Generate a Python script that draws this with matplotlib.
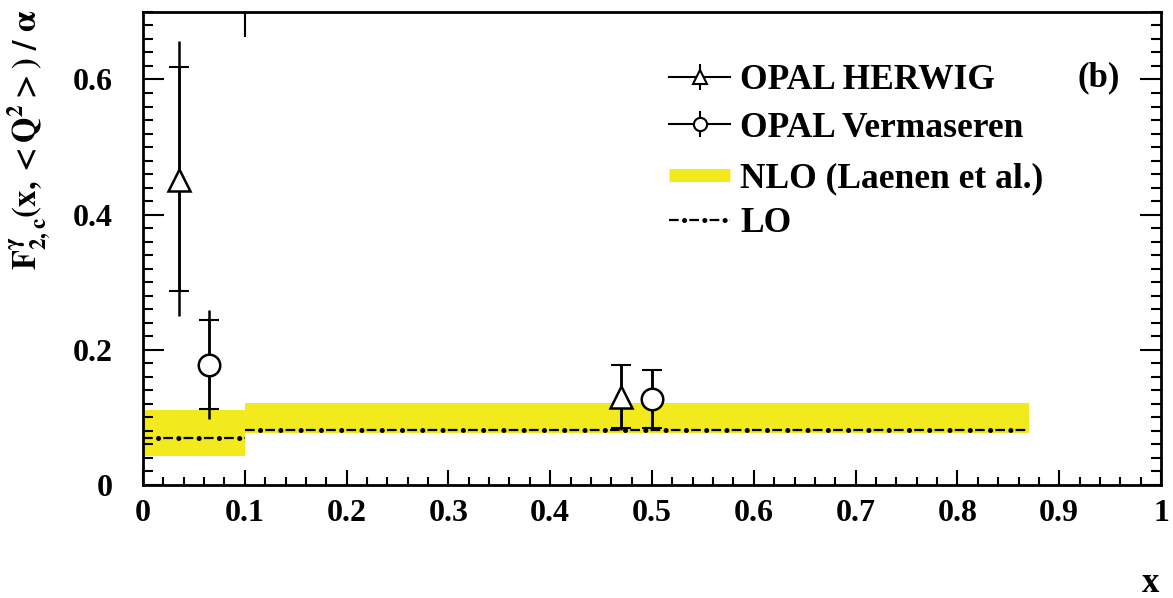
import numpy as np
import matplotlib
matplotlib.use('Agg')
import matplotlib.pyplot as plt
from matplotlib.lines import Line2D
from matplotlib.ticker import MultipleLocator, FormatStrFormatter

plt.rcParams['font.family'] = ['Liberation Serif', 'DejaVu Serif']
plt.rcParams['font.weight'] = 'bold'
plt.rcParams['mathtext.fontset'] = 'stix'
plt.rcParams['lines.scale_dashes'] = False

# OPAL measurements: central value, inner (stat) and outer (total) error bounds
herwig_x = [0.035, 0.47]
herwig_y = [0.451, 0.130]
herwig_stat_lo = [0.287, 0.084]
herwig_stat_hi = [0.618, 0.177]
herwig_tot_lo = [0.250, 0.081]
herwig_tot_hi = [0.657, 0.177]

verm_x = [0.065, 0.50]
verm_y = [0.177, 0.127]
verm_stat_lo = [0.112, 0.085]
verm_stat_hi = [0.244, 0.170]
verm_tot_lo = [0.098, 0.081]
verm_tot_hi = [0.259, 0.170]

# theory bins
bin_lo = [0.0, 0.1]
bin_hi = [0.1, 0.87]
nlo_min = [0.043, 0.077]
nlo_max = [0.111, 0.121]
lo_val = [0.069, 0.081]

YELLOW = '#f2ea1c'
DASH = (0, (7.0, 7.6))
DOT = (3.8, (0.1, 14.5))

fig = plt.figure(figsize=(11.73, 5.98), dpi=100)
ax = fig.add_axes([0.1219, 0.189, 0.8679, 0.7911])

# NLO band and LO line per bin
for lo, hi, ymin, ymax, yl in zip(bin_lo, bin_hi, nlo_min, nlo_max, lo_val):
    ax.fill_between([lo, hi], [ymin, ymin], [ymax, ymax], color=YELLOW, lw=0, zorder=1)
    ax.plot([lo, hi], [yl, yl], color='k', lw=1.6, linestyle=DASH, zorder=2)
    ax.plot([lo, hi], [yl, yl], color='k', lw=3.6, linestyle=DOT,
            dash_capstyle='round', zorder=2)


def draw_points(x, y, slo, shi, tlo, thi, marker):
    x = np.asarray(x)
    y = np.asarray(y)
    tot = [y - np.asarray(tlo), np.asarray(thi) - y]
    stat = [y - np.asarray(slo), np.asarray(shi) - y]
    ax.errorbar(x, y, yerr=tot, fmt='none', ecolor='k', elinewidth=1.8, zorder=3)
    ax.errorbar(x, y, yerr=stat, fmt='none', ecolor='k', elinewidth=1.8,
                capsize=7.2, capthick=1.5, zorder=3)
    ax.plot(x, y, ls='none', marker=marker, ms=15.5, mfc='white', mec='k',
            mew=1.8, zorder=4)


draw_points(herwig_x, herwig_y, herwig_stat_lo, herwig_stat_hi,
            herwig_tot_lo, herwig_tot_hi, '^')
draw_points(verm_x, verm_y, verm_stat_lo, verm_stat_hi,
            verm_tot_lo, verm_tot_hi, 'o')

# bin edge stub at the top
ax.axvline(0.1, ymin=0.95, ymax=1.0, color='k', lw=1.5)

ax.set_xlim(0, 1)
ax.set_ylim(0, 0.7)
ax.xaxis.set_major_locator(MultipleLocator(0.1))
ax.xaxis.set_minor_locator(MultipleLocator(0.02))
ax.yaxis.set_major_locator(MultipleLocator(0.2))
ax.yaxis.set_minor_locator(MultipleLocator(0.02))
ax.xaxis.set_major_formatter(FormatStrFormatter('%g'))
ax.yaxis.set_major_formatter(FormatStrFormatter('%g'))
ax.tick_params(axis='x', which='both', direction='in', top=False, labelsize=23, pad=10)
ax.tick_params(axis='x', which='major', length=11, width=1.5)
ax.tick_params(axis='x', which='minor', length=6, width=1.5)
ax.tick_params(axis='y', which='both', direction='in', right=True, labelsize=23, pad=22)
ax.tick_params(axis='y', which='major', length=15, width=1.5)
ax.tick_params(axis='y', which='minor', length=7, width=1.5)
for sp in ax.spines.values():
    sp.set_linewidth(2.0)

ax.set_xlabel('x', fontsize=25, fontweight='bold')
ax.xaxis.set_label_coords(0.9985, -0.226)
ax.xaxis.label.set_horizontalalignment('right')
ax.xaxis.label.set_verticalalignment('baseline')
ax.set_ylabel(r'$\mathbf{F^{\gamma}_{2,c}(x,{<}Q^{2}{>})\ /\ \alpha}$', fontsize=23.5)
ax.yaxis.set_label_coords(-0.088, 0.73)

ax.text(0.939, 0.86, '(b)', transform=ax.transAxes, fontsize=25, ha='center', va='center')

# legend handles
h_herwig = (Line2D([], [], ls='none', marker='|', ms=19, mew=1.5, color='k'),
            Line2D([], [], color='k', lw=1.5, marker='^', ms=9.5, mfc='white', mew=1.5))
h_verm = (Line2D([], [], ls='none', marker='|', ms=19, mew=1.5, color='k'),
          Line2D([], [], color='k', lw=1.5, marker='o', ms=9.5, mfc='white', mew=1.5))
h_nlo = Line2D([], [], color=YELLOW, lw=9.4, solid_capstyle='butt')
h_lo = (Line2D([], [], color='k', lw=1.6, linestyle=DASH),
        Line2D([], [], color='k', lw=3.6, linestyle=DOT, dash_capstyle='round'))

leg_kw = dict(loc='upper left', frameon=False, fontsize=25.5, handlelength=1.72,
              handletextpad=0.28, borderpad=0, borderaxespad=0)
leg1 = ax.legend([h_herwig, h_verm], ['OPAL HERWIG', 'OPAL Vermaseren'],
                 bbox_to_anchor=(0.517, 0.889), labelspacing=0.4, **leg_kw)
ax.add_artist(leg1)
ax.legend([h_nlo, h_lo], ['NLO (Laenen et al.)', 'LO'],
          bbox_to_anchor=(0.517, 0.681), labelspacing=0.33, **leg_kw)

fig.savefig('out.png', dpi=100)
